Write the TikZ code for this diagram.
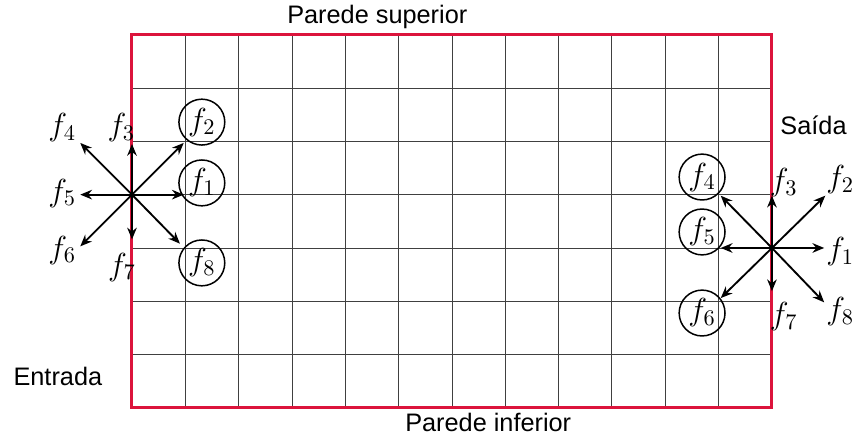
\RequirePackage{fix-cm}
\documentclass[tikz,border=0pt]{standalone}
\usepackage{fontspec}
\setmainfont{Liberation Sans}
\usepackage{tikz}
\usetikzlibrary{arrows.meta, positioning, calc}
\usepackage{amsmath}
\definecolor{wallred}{RGB}{220,20,60}

\begin{document}
\begin{tikzpicture}[
        gridline/.style={black!75, line width=0.5pt},
        wall/.style={wallred, line width=1.6pt},
        vec/.style={line width=1pt, -{Stealth[length=2.2mm, width=1.8mm]}},
        dir/.style={font=\fontsize{17}{20}\selectfont, inner sep=1pt},
        pick/.style={circle, draw=black, line width=0.8pt, minimum size=0.86cm, inner sep=0pt, font=\fontsize{17}{20}\selectfont},
        lbl/.style={font=\fontsize{13.5}{16}\selectfont}
    ]
    \useasboundingbox (-2.475,-0.5625) rectangle (13.52,7.65);

    % --- Malha ---
    \draw[gridline] (0,0) grid (12,7);
    \draw[wall] (0,0) rectangle (12,7);

    % --- Textos ---
    \node[lbl] (sup) at (4.6,7.33) {Parede superior};
    \node[lbl] (inf) at (6.68,-0.27) {Parede inferior};
    \node[lbl] (sai) at (12.78,5.3) {Saída};
    \node[lbl] (ent) at (-1.39,0.6) {Entrada};

    % --- Entrada: vetores ---
    \coordinate (L) at (0,4);
    \foreach \n/\dx/\dy in {1/0.97/0, 2/0.97/0.97, 3/0/0.95, 4/-0.97/0.97,
                            5/-0.97/0, 6/-0.97/-0.97, 7/0/-0.84, 8/0.9/-0.92} {
        \coordinate (L\n) at ($(L)+(\dx,\dy)$);
        \draw[vec] (L) -- (L\n);
    }
    \node[pick] (cL2) at (1.31,5.36) {$f_2$};
    \node[pick] (cL1) at (1.31,4.22) {$f_1$};
    \node[pick] (cL8) at (1.31,2.72) {$f_8$};
    \node[dir] (tL4) at (-1.31,5.25) {$f_4$};
    \node[dir] (tL3) at (-0.2,5.25) {$f_3$};
    \node[dir] (tL5) at (-1.31,4.03) {$f_5$};
    \node[dir] (tL6) at (-1.31,2.96) {$f_6$};
    \node[dir] (tL7) at (-0.19,2.64) {$f_7$};

    % --- Saída: vetores ---
    \coordinate (R) at (12,3);
    \foreach \n/\dx/\dy in {1/0.98/0, 2/1/0.98, 3/0/0.98, 4/-0.96/0.98,
                            5/-0.96/0, 6/-0.96/-0.94, 7/0/-0.81, 8/0.98/-1.02} {
        \coordinate (R\n) at ($(R)+(\dx,\dy)$);
        \draw[vec] (R) -- (R\n);
    }
    \node[pick] (cR4) at (10.69,4.33) {$f_4$};
    \node[pick] (cR5) at (10.69,3.3) {$f_5$};
    \node[pick] (cR6) at (10.69,1.78) {$f_6$};
    \node[dir] (tR3) at (12.22,4.22) {$f_3$};
    \node[dir] (tR2) at (13.28,4.28) {$f_2$};
    \node[dir] (tR1) at (13.28,2.93) {$f_1$};
    \node[dir] (tR8) at (13.28,1.8) {$f_8$};
    \node[dir] (tR7) at (12.22,1.71) {$f_7$};

\end{tikzpicture}
\end{document}
